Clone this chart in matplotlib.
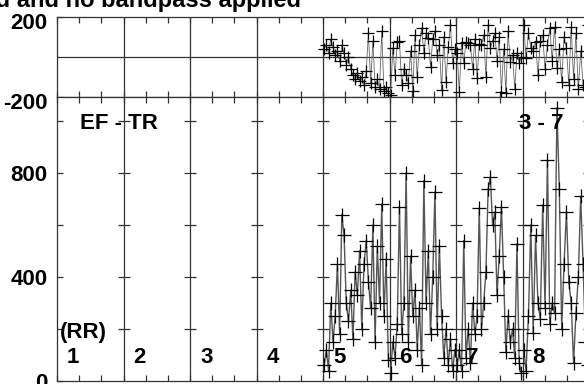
import numpy as np
import matplotlib
matplotlib.use('Agg')
import matplotlib.pyplot as plt
import matplotlib.transforms as mtrans

plt.rcParams['font.family'] = ['Liberation Sans', 'DejaVu Sans']
plt.rcParams['font.weight'] = 'bold'

# window numbers (RR intervals) that hold data
windows = [5, 6, 7, 8]

# bottom panel: EF - TR values per window
rr_bottom = {
    5: [60, 120, 40, 300, 150, 250, 450, 180, 640, 560, 300, 230, 350, 160, 420,
        330, 500, 200, 450, 540, 380, 280, 600, 150, 520, 300, 680, 250, 470, 80],
    6: [30, 150, 90, 220, 670, 180, 300, 800, 150, 480, 250, 350, 120, 280, 60,
        770, 300, 500, 180, 400, 727, 200, 520, 250, 90, 200, 60, 160, 40, 120],
    7: [60, 120, 40, 540, 90, 200, 70, 300, 180, 250, 665, 200, 300, 420, 738,
        785, 600, 650, 330, 480, 670, 400, 110, 250, 150, 200, 90, 527, 70, 30],
    8: [120, 40, 250, 600, 185, 560, 300, 240, 676, 280, 850, 220, 300, 260, 1050,
        740, 200, 450, 650, 380, 300, 70, 260, 400, 710, 450, 150, 60],
}

# top panel: residual values per window
rr_top = {
    5: [40, 60, 20, 90, 50, 10, 30, -20, 60, 20, -40, 0, -60, -90, -110,
        -80, -120, -100, -140, -70, 120, -130, 80, -150, -110, -160, 130, -170, -150, -180],
    6: [-190, 45, -90, 75, 80, -140, -60, -90, -130, 30, -170, 110, -100, 60, 145,
        20, 120, 95, -50, 90, 130, 10, 60, -165, 100, -125, 50, 160, -30, 40],
    7: [20, -175, 70, -30, 75, 70, 60, -60, 90, -105, 65, 60, 110, -100, 160,
        45, 80, 120, -20, 100, -175, 40, -180, 130, -25, 10, -160, 20, -30, 0],
    8: [160, -5, 120, 45, 30, 75, -90, 80, 110, -60, 60, 145, -20, 150, -55,
        40, -125, 100, 45, -140, 150, -110, 120, -160, 30, -140, -150, 160],
}

window_labels = ['1', '2', '3', '4', '5', '6', '7', '8', '9']
title = 'Baseline removed and no bandpass applied'
fs = 16


def window_x(k, n):
    # evenly spaced samples inside window k (spans k-1 .. k)
    return (k - 1) + (np.arange(n) + 0.5) / n


fig = plt.figure(figsize=(5.84, 3.84), dpi=100)
left = 57 / 584
width = 10 * 66.5 / 584
ax_top = fig.add_axes([left, 1 - 97 / 384, width, 80 / 384])
ax_bot = fig.add_axes([left, 1 - 381 / 384, width, (381 - 97) / 384])

grid_c = '#333333'
for ax in (ax_top, ax_bot):
    ax.set_xlim(0, 10)
    for b in range(1, 10):
        ax.axvline(b, color=grid_c, lw=0.9, zorder=1)
    ax.set_xticks(np.arange(0, 11, 1))
    ax.set_xticks(np.arange(0, 10, 1 / 3), minor=True)
    ax.tick_params(axis='x', which='both', direction='in', top=True, bottom=True,
                   length=4, width=0.9, labelbottom=False, color=grid_c)
    ax.tick_params(axis='y', direction='in', length=4, width=0.9, labelsize=fs,
                   pad=7, color=grid_c)
    for s in ax.spines.values():
        s.set_color(grid_c)
        s.set_linewidth(0.9)

# top panel
ax_top.set_ylim(-200, 200)
ax_top.axhline(0, color=grid_c, lw=0.9, zorder=1)
ax_top.set_yticks([-200, 200])
ax_top.set_yticklabels(['-200', '200'], fontweight='bold')
# labels sit a little below their ticks in the original
shift = mtrans.ScaledTranslation(0, -4 / 100, fig.dpi_scale_trans)
for lbl in ax_top.get_yticklabels():
    lbl.set_transform(lbl.get_transform() + shift)
for k in windows:
    vals = rr_top[k]
    ax_top.plot(window_x(k, len(vals)), vals, color='#666666', lw=0.6,
                marker='+', ms=9, mew=0.9, mec='black', zorder=3)

# bottom panel
ax_bot.set_ylim(0, 1092)
ax_bot.set_yticks(np.arange(0, 1001, 200))
ax_bot.set_yticklabels(['0', '', '400', '', '800', ''], fontweight='bold')
levels = np.arange(200, 1001, 200)
for b in range(1, 10):
    ax_bot.plot(np.full(len(levels), b), levels, ls='none', marker='_', ms=9,
                mew=0.9, color=grid_c, zorder=2)
for k in windows:
    vals = rr_bottom[k]
    ax_bot.plot(window_x(k, len(vals)), vals, color='#555555', lw=1.0,
                marker='+', ms=9.5, mew=0.9, mec='black', zorder=3)

for i, lab in enumerate(window_labels):
    ax_bot.text(i + 0.15, 92, lab, fontsize=fs, fontweight='bold', va='center', ha='left')
ax_bot.text(0.05, 185, '(RR)', fontsize=fs, fontweight='bold', va='center', ha='left')
ax_bot.text(0.35, 992, 'EF - TR', fontsize=fs, fontweight='bold', va='center', ha='left')
ax_bot.text(6.95, 992, '3 - 7', fontsize=fs, fontweight='bold', va='center', ha='left')

fig.text(301 / 584, 1 - 7 / 384, title, fontsize=17, fontweight='bold',
         ha='right', va='baseline')

fig.savefig('out.png', dpi=100)
